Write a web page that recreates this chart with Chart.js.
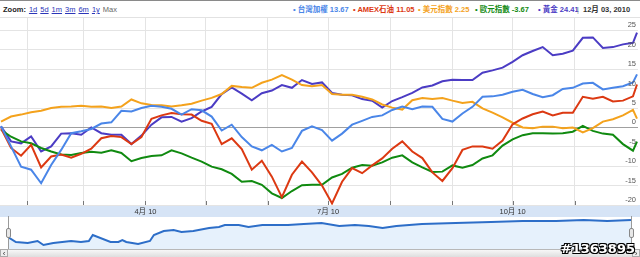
<!DOCTYPE html>
<html>
<head>
<meta charset="utf-8">
<script src="https://cdn.jsdelivr.net/npm/chart.js@4.4.0/dist/chart.umd.min.js"></script>
<style>
  html, body { margin: 0; padding: 0; background: #fff; }
  #wrap { position: relative; width: 640px; height: 257px; overflow: hidden;
    font-family: "Liberation Sans", Arial, "Noto Sans CJK TC", sans-serif; }
  #header { position: absolute; left: 0; top: 0; width: 640px; height: 18px; box-sizing: border-box;
    border-top: 1px solid #8a8a8a; border-bottom: 1px solid #e2e2e2; }
  #header span { position: absolute; top: 4px; font-size: 7.5px; line-height: 9px; white-space: nowrap; font-weight: bold; }
  #zoom { left: 3px; color: #222; }
  #zoom a { color: #2b35b8; text-decoration: underline; font-weight: normal; margin-left: 3px; }
  #zoom em { color: #666; font-style: normal; font-weight: normal; margin-left: 3px; }
  #main { position: absolute; left: 0; top: 18px; }
  #navWrap { position: absolute; left: 8px; top: 216px; width: 623px; height: 33px; }
  .edge { position: absolute; top: 216px; width: 1px; height: 33px; background: #9a9a9a; }
  .handle { position: absolute; top: 228px; width: 5px; height: 10px; background: #e8e8e8;
    border: 1px solid #888; border-radius: 2px; box-sizing: border-box; }
  #scroll { position: absolute; left: 0; top: 249px; width: 640px; height: 8px; box-sizing: border-box;
    background: linear-gradient(#f7f7f7, #dedede); border-top: 1px solid #b8b8b8; }
  .arrow { position: absolute; top: 249px; width: 8px; height: 8px; font-size: 8px; line-height: 8px;
    text-align: center; color: #333; background: #eee; border: 1px solid #aaa; box-sizing: border-box; }
  #mark { position: absolute; right: 5px; bottom: 1px; font: bold 13px "DejaVu Sans", sans-serif; color: #fff;
    text-shadow: -1px -1px 0 #000, 1px -1px 0 #000, -1px 1px 0 #000, 1px 1px 0 #000, 0 1px 0 #000, 0 -1px 0 #000; }
</style>
</head>
<body>
<div id="wrap">
  <div id="header">
    <span id="zoom">Zoom:<a>1d</a><a>5d</a><a>1m</a><a>3m</a><a>6m</a><a>1y</a><em>Max</em></span>
  </div>
  <canvas id="main" width="640" height="199"></canvas>
  <div id="navWrap"><canvas id="nav" width="623" height="33"></canvas></div>
  <div class="edge" style="left:8px"></div>
  <div class="edge" style="left:631px"></div>
  <div class="handle" style="left:6px"></div>
  <div class="handle" style="left:629px"></div>
  <div id="scroll"></div>
  <div class="arrow" style="left:0">&lsaquo;</div>
  <div class="arrow" style="left:632px">&rsaquo;</div>
  <div id="mark">#1363895</div>
</div>
<script>
// day of year 2010, one point about every 5 days
const days = [18, 23, 28, 33, 38, 43, 48, 53, 58, 63, 68, 73, 78, 83, 88, 93, 98,
  103, 108, 113, 118, 123, 128, 133, 138, 143, 148, 153, 158, 163, 168, 173, 178,
  183, 188, 193, 198, 203, 208, 213, 218, 223, 228, 233, 238, 243, 248, 253, 258,
  263, 268, 273, 278, 283, 288, 293, 298, 303, 308, 313, 318, 323, 328, 333, 335];

const taiex = [0.3, -4.9, -10.1, -10.9, -14.4, -9.7, -5.8, -1.5, -1.0, -0.4, 1.0, 1.3, 4.3, 4.1, 5.0, 5.6, 5.3,
  4.8, 3.3, 4.7, 4.4, 2.8, -0.8, 0.7, -2.5, -4.9, -5.9, -4.5, -6.2, -5.3, -0.9, 0.3, -0.7,
  -3.4, -1.6, 0.7, 1.7, 2.7, 3.1, 4.5, 5.4, 4.7, 5.4, 5.3, 2.2, 1.5, 3.6, 5.3, 7.9,
  8.0, 8.4, 9.2, 9.7, 8.6, 7.8, 8.3, 9.9, 10.2, 11.3, 11.5, 9.8, 10.2, 10.6, 11.6, 13.67];
const amexOil = [-0.2, -5.3, -7.3, -4.5, -10.3, -7.5, -7.0, -7.8, -6.8, -5.5, -2.8, -2.2, -2.5, -4.3, -2.5, 2.2, 3.1,
  3.7, 3.4, 3.3, 1.7, 0.9, -4.3, -2.8, -5.6, -10.9, -8.6, -12.7, -18.0, -12.2, -8.8, -11.6, -15.0,
  -19.6, -14.0, -10.5, -11.8, -9.8, -8.0, -5.5, -3.6, -6.2, -7.9, -11.6, -13.8, -10.5, -5.8, -4.9, -4.9,
  -5.5, -3.4, 0.8, 2.3, 3.4, 4.1, 3.1, 3.8, 3.8, 7.9, 7.4, 7.9, 6.7, 6.9, 8.0, 11.05];
const usdIndex = [1.5, 2.8, 3.3, 3.9, 4.3, 5.0, 5.3, 5.4, 5.6, 5.3, 5.4, 5.0, 5.4, 7.2, 6.2, 5.8, 5.7,
  5.4, 5.7, 6.1, 6.9, 7.6, 8.6, 10.7, 10.4, 10.2, 11.5, 12.3, 13.5, 12.3, 10.9, 10.6, 10.9,
  8.6, 8.4, 8.4, 7.9, 7.2, 5.9, 5.1, 4.6, 7.0, 7.6, 7.3, 7.6, 6.9, 6.3, 6.6, 4.9,
  3.8, 2.6, 1.2, 0.0, -0.2, 0.2, 0.2, -0.2, 0.0, -1.3, -0.2, 1.5, 2.1, 3.1, 4.5, 2.25];
const euroIndex = [-0.6, -2.4, -3.6, -4.1, -5.3, -6.2, -7.0, -7.1, -6.6, -6.3, -6.5, -5.9, -6.6, -8.7, -7.9, -7.4, -7.2,
  -5.9, -6.7, -7.8, -8.8, -10.1, -10.8, -12.0, -14.0, -13.8, -14.8, -17.0, -18.2, -16.4, -14.9, -14.8, -14.8,
  -12.9, -12.0, -10.4, -9.7, -9.9, -9.0, -7.8, -7.2, -9.0, -10.3, -11.5, -11.4, -9.8, -10.4, -9.7, -8.0,
  -7.2, -4.7, -3.1, -2.0, -1.5, -1.5, -1.6, -1.5, -1.1, 0.4, -0.9, -1.6, -1.9, -4.3, -6.0, -3.67];
const gold = [0.3, -3.6, -4.1, -2.3, -6.2, -4.9, -1.6, -1.5, -1.9, 0.0, -1.5, -1.9, -1.9, -4.3, -2.1, 0.7, 2.6,
  2.7, 1.5, 2.4, 4.1, 5.3, 8.6, 10.3, 8.7, 7.0, 8.8, 9.5, 10.9, 10.2, 12.2, 11.2, 11.6,
  8.9, 8.4, 8.3, 7.3, 6.9, 5.1, 6.8, 7.8, 8.9, 10.3, 10.8, 11.9, 12.3, 12.2, 12.2, 14.1,
  14.7, 15.4, 16.9, 18.6, 19.7, 20.7, 18.6, 19.0, 19.8, 23.1, 23.2, 20.5, 20.7, 21.4, 21.8, 24.41];

const seriesNames = ['台灣加權', 'AMEX石油', '美元指數', '歐元指數', '黃金'];
const seriesData = [taiex, amexOil, usdIndex, euroIndex, gold];
const seriesColors = ['#4a86e8', '#dc3912', '#f4a21c', '#108a10', '#4b3cc4'];

const monthStarts = [31, 59, 90, 120, 151, 181, 212, 243, 273, 304];
const monthLabels = { 90: '4月 10', 181: '7月 10', 273: '10月 10' };
const yTicks = [-20, -15, -10, -5, 0, 5, 10, 15, 20, 25];
const dateLabel = '12月 03, 2010';

// navigator: full-range index line
const navDays = [18, 22, 28, 33, 36, 41, 50, 55, 59, 61, 70, 74, 76, 78, 84, 90, 92, 97, 102, 106, 112, 120,
  125, 128, 135, 140, 147, 153, 160, 168, 177, 186, 194, 201, 208, 215, 228, 245, 263, 279, 296, 310, 322, 334];
const navValues = [12, 7, 6, 8, 4, 6, 8, 7, 8, 14, 7, 7, 9, 7, 5, 8, 14, 18, 19, 17, 18, 21,
  22, 24, 24, 22, 24, 24, 24, 25, 26, 23, 24, 23, 21, 23, 25, 26, 27, 28, 28, 29, 28, 29];

// header legend
const legendX = [293, 353, 418, 475, 538];
const headerEl = document.getElementById('header');
seriesNames.forEach((name, i) => {
  const s = document.createElement('span');
  s.style.left = legendX[i] + 'px';
  s.style.color = seriesColors[i];
  const last = seriesData[i][seriesData[i].length - 1];
  s.textContent = '\u2022 ' + name + ' ' + last.toFixed(2);
  headerEl.appendChild(s);
});
const sep = document.createElement('span');
sep.style.left = '577px'; sep.style.color = '#999'; sep.style.fontWeight = 'normal';
sep.textContent = '|';
headerEl.appendChild(sep);
const dt = document.createElement('span');
dt.style.left = '583px'; dt.style.color = '#333';
dt.textContent = dateLabel;
headerEl.appendChild(dt);

// date band under the plot, month tick marks, y labels inside the plot
const bandPlugin = {
  id: 'band',
  beforeDraw(chart) {
    const { ctx, chartArea, width, height } = chart;
    ctx.save();
    ctx.fillStyle = '#d6e4f6';
    ctx.fillRect(0, chartArea.bottom, width, height - chartArea.bottom);
    ctx.restore();
  },
  afterDatasetsDraw(chart) {
    const { ctx, chartArea, scales } = chart;
    ctx.save();
    ctx.strokeStyle = '#777';
    ctx.lineWidth = 1;
    monthStarts.forEach(d => {
      const x = Math.round(scales.x.getPixelForValue(d)) + 0.5;
      ctx.beginPath();
      ctx.moveTo(x, chartArea.bottom - 4);
      ctx.lineTo(x, chartArea.bottom);
      ctx.stroke();
    });
    ctx.fillStyle = '#555';
    ctx.font = '7.5px "Liberation Sans", sans-serif';
    ctx.textAlign = 'right';
    ctx.textBaseline = 'middle';
    scales.y.ticks.forEach(t => {
      ctx.fillText(String(t.value), chartArea.right - 2, scales.y.getPixelForValue(t.value) - 5);
    });
    ctx.restore();
  }
};

new Chart(document.getElementById('main'), {
  type: 'line',
  data: {
    datasets: seriesNames.map((name, i) => ({
      label: name,
      data: days.map((d, j) => ({ x: d, y: seriesData[i][j] })),
      borderColor: seriesColors[i],
      borderWidth: 2,
      pointRadius: 0,
      tension: 0,
    })),
  },
  options: {
    responsive: false,
    animation: false,
    layout: { padding: 0 },
    plugins: { legend: { display: false }, tooltip: { enabled: false } },
    scales: {
      x: {
        type: 'linear', min: 17.5, max: 335.5,
        afterBuildTicks: s => { s.ticks = monthStarts.map(v => ({ value: v })); },
        afterFit: s => { s.height = 12; },
        ticks: {
          autoSkip: false, maxRotation: 0, padding: 2, color: '#333',
          font: { size: 7.5, family: '"Liberation Sans", "Noto Sans CJK TC", sans-serif' },
          callback: v => monthLabels[v] || '',
        },
        grid: { color: '#e4e4e4', drawTicks: false },
        border: { display: false },
      },
      y: {
        position: 'right', min: -20, max: 28.2,
        afterBuildTicks: s => { s.ticks = yTicks.map(v => ({ value: v })); },
        afterFit: s => { s.width = 2; },
        ticks: { display: false },
        grid: { color: c => (c.tick && c.tick.value === 0 ? '#a0a0a0' : '#e4e4e4'), drawTicks: false },
        border: { display: false },
      },
    },
  },
  plugins: [bandPlugin],
});

new Chart(document.getElementById('nav'), {
  type: 'line',
  data: {
    datasets: [{
      data: navDays.map((d, j) => ({ x: d, y: navValues[j] })),
      borderColor: '#2d6ec8',
      borderWidth: 2,
      backgroundColor: '#e6f1fc',
      fill: 'start',
      pointRadius: 0,
      tension: 0,
    }],
  },
  options: {
    responsive: false,
    animation: false,
    layout: { padding: 0 },
    plugins: { legend: { display: false }, tooltip: { enabled: false } },
    scales: {
      x: { type: 'linear', min: 18, max: 334, display: false },
      y: { min: 0, max: 33, display: false },
    },
  },
});
</script>
</body>
</html>
